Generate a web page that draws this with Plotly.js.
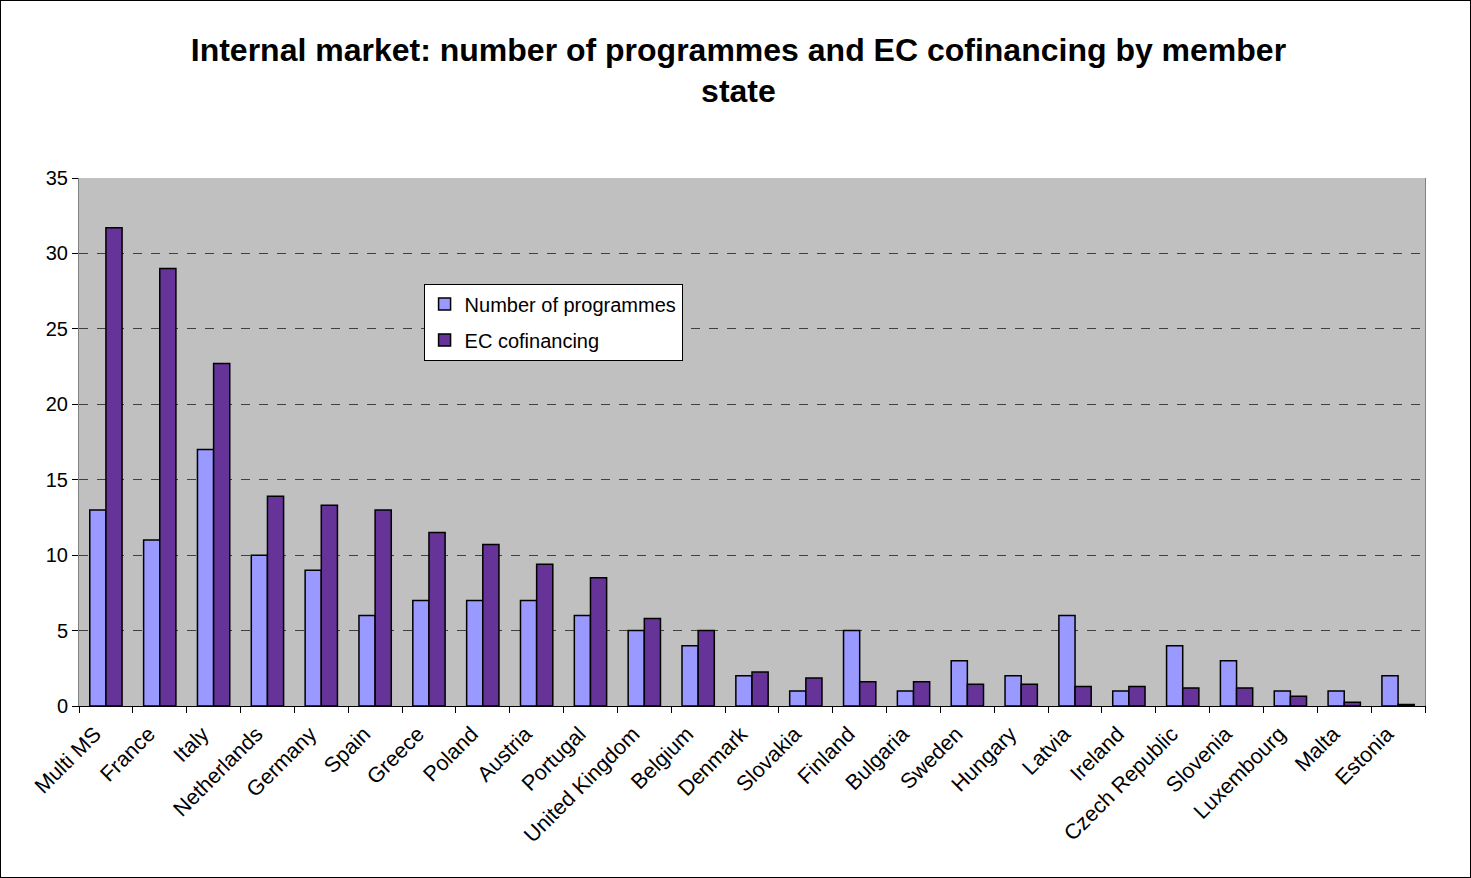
<!DOCTYPE html>
<html>
<head>
<meta charset="utf-8">
<script src="https://cdn.plot.ly/plotly-3.0.1.min.js"></script>
<style>
html,body{margin:0;padding:0;background:#fff;}
#chart{width:1469px;height:876px;border:1px solid #000;}
</style>
</head>
<body>
<div id="chart"></div>
<script>
const categories = ["Multi MS","France","Italy","Netherlands","Germany","Spain","Greece","Poland","Austria","Portugal","United Kingdom","Belgium","Denmark","Slovakia","Finland","Bulgaria","Sweden","Hungary","Latvia","Ireland","Czech Republic","Slovenia","Luxembourg","Malta","Estonia"];
const programmes = [13,11,17,10,9,6,7,7,7,6,5,4,2,1,5,1,3,2,6,1,4,3,1,1,2];
const cofinancing = [31.7,29.0,22.7,13.9,13.3,13.0,11.5,10.7,9.4,8.5,5.8,5.0,2.25,1.85,1.6,1.6,1.45,1.45,1.3,1.3,1.2,1.2,0.65,0.25,0.1];
const yTicks = [0,5,10,15,20,25,30,35];

const font = "Liberation Sans, Arial, sans-serif";
const traces = [
  {type:"bar", name:"Number of programmes", x:categories, y:programmes, legendgroup:"a",
   marker:{color:"#9999FF", line:{color:"#000", width:1.5}}},
  {type:"bar", name:"EC cofinancing", x:categories, y:cofinancing, legendgroup:"b",
   marker:{color:"#663399", line:{color:"#000", width:1.5}}}
];
const layout = {
  width:1469, height:876,
  margin:{l:78, r:45, t:177, b:171},
  paper_bgcolor:"#fff", plot_bgcolor:"#C0C0C0",
  font:{family:font, color:"#000", size:20},
  title:{text:"<b>Internal market: number of programmes and EC cofinancing by member<br>state</b>",
         font:{family:font, size:32, color:"#000"}, x:0.502, xanchor:"center",
         yref:"container", y:0.932, yanchor:"top"},
  barmode:"group", bargap:0.4, bargroupgap:0,
  showlegend:true,
  legend:{x:0.256, y:0.8, xanchor:"left", yanchor:"top", bgcolor:"#fff",
          bordercolor:"#000", borderwidth:1, font:{family:font, size:20},
          tracegroupgap:7},
  xaxis:{type:"category", tickangle:-45, tickfont:{size:21.5, family:font},
         ticks:"outside", tickson:"boundaries", ticklen:6, tickcolor:"#000",
         ticklabelshift:-11, ticklabelstandoff:6,
         showline:true, linecolor:"#000", linewidth:1, showgrid:false},
  yaxis:{range:[0,35], tickvals:yTicks, ticktext:yTicks.map(String),
         tickfont:{size:20, family:font}, ticks:"outside", ticklen:6, tickcolor:"#000",
         showline:true, linecolor:"#808080", linewidth:1, mirror:true,
         showgrid:true, gridcolor:"#404040", griddash:"dash", gridwidth:1,
         zeroline:false}
};
Plotly.newPlot("chart", traces, layout, {displayModeBar:false});
</script>
</body>
</html>
